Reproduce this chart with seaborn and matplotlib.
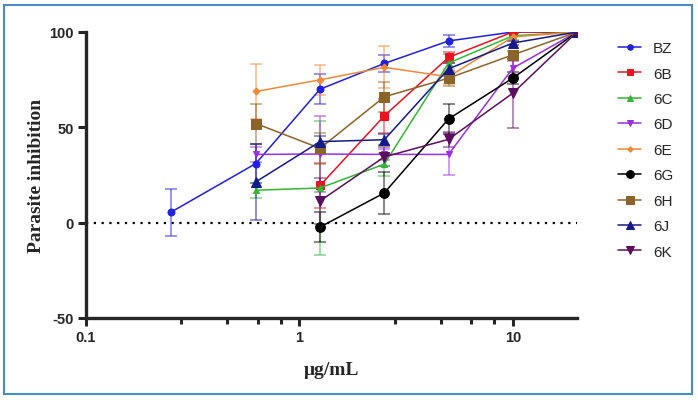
import numpy as np
import pandas as pd
import seaborn as sns
import matplotlib.pyplot as plt
from matplotlib.patches import Rectangle
from matplotlib.ticker import FixedLocator, FixedFormatter

# concentrations (ug/mL)
conc_bz = [0.25, 0.625, 1.25, 2.5, 5, 10, 20]
conc_6 = [0.625, 1.25, 2.5, 5, 10, 20]
conc_late = [1.25, 2.5, 5, 10, 20]

# mean inhibition and error per compound
bz = [5.5, 31, 70, 83.5, 95.3, 100, 100]
bz_err = [12.3, 10, 8, 4.5, 3, 0.5, 0.5]
c6b = [19.5, 56, 86.7, 100, 100]
c6b_err = [12, 9, 3, 0.5, 0.5]
c6c = [17, 18.2, 30.7, 83.7, 98, 100]
c6c_err = [4, 35, 6, 5, 2, 0.5]
c6d = [35.8, 36, 35.8, 35.8, 81, 100]
c6d_err = [4, 20, 3, 11, 4, 0.5]
c6e = [68.8, 74.9, 81.5, 76.5, 97.4, 100]
c6e_err = [14.5, 8, 11, 4, 2, 0.5]
c6g = [-2.3, 15.6, 54.4, 75.8, 100]
c6g_err = [8, 11, 8, 3, 0.5]
c6h = [52, 39, 66, 75.8, 88, 100]
c6h_err = [10.5, 8, 8, 4, 2, 0.5]
c6j = [21.4, 42.5, 43.5, 80.7, 94.2, 100]
c6j_err = [20, 3, 3, 3, 1, 0.5]
c6k = [11.4, 34.5, 43.7, 67.9, 100]
c6k_err = [12, 5, 4, 18, 0.5]

names = ["BZ", "6B", "6C", "6D", "6E", "6G", "6H", "6J", "6K"]
xs = [conc_bz, conc_late, conc_6, conc_6, conc_6, conc_late, conc_6, conc_6, conc_late]
ys = [bz, c6b, c6c, c6d, c6e, c6g, c6h, c6j, c6k]
errs = [bz_err, c6b_err, c6c_err, c6d_err, c6e_err, c6g_err, c6h_err, c6j_err, c6k_err]
colors = ["#2020dd", "#ee1122", "#33b833", "#9b30e0", "#f08a3a",
          "#000000", "#8b6428", "#151a8a", "#5c0f5e"]
markers = ["o", "s", "^", "v", "D", "o", "s", "^", "v"]
msizes = [5, 6, 5, 5, 3.5, 7, 7, 7, 7]

sns.set_style("ticks")
plt.rcParams['font.family'] = ['Liberation Sans', 'DejaVu Sans']
plt.rcParams['axes.unicode_minus'] = False

fig = plt.figure(figsize=(6.98, 4.06), dpi=100)
ax = fig.add_axes([86 / 698, 1 - 319 / 406, (577 - 86) / 698, (319 - 33) / 406])

ax.plot([0.1, 20], [0, 0], color="black", linestyle=(0, (1, 2.5)), linewidth=1.6, zorder=1)

for name, x, y, e, c, m, s in zip(names, xs, ys, errs, colors, markers, msizes):
    ax.errorbar(x, y, yerr=e, fmt="none", ecolor=c, elinewidth=1.2,
                capsize=4.5, capthick=1.2, alpha=0.55, zorder=2)
    df = pd.DataFrame({"conc": x, "inhib": y})
    sns.lineplot(data=df, x="conc", y="inhib", color=c, marker=m, markersize=s,
                 markeredgecolor=c, linewidth=1.1, label=name, ax=ax, zorder=3)

ax.set_xscale("log")
ax.set_xlim(0.1, 20)
ax.set_ylim(-50, 100)

ax.xaxis.set_major_locator(FixedLocator([0.1, 1, 10]))
ax.xaxis.set_major_formatter(FixedFormatter(["0.1", "1", "10"]))
ax.xaxis.set_minor_locator(FixedLocator([0.28, 0.46, 0.64, 0.82, 2.8, 4.6, 6.4, 8.2]))
ax.xaxis.set_minor_formatter(FixedFormatter([]))
ax.set_yticks([-50, 0, 50, 100])

for sp in ["top", "right"]:
    ax.spines[sp].set_visible(False)
for sp in ["left", "bottom"]:
    ax.spines[sp].set_linewidth(2.4)
ax.tick_params(which="major", length=6, width=2.2, labelsize=10.5, pad=3)
ax.tick_params(axis="x", which="minor", length=4, width=2.2)
for lab in ax.get_xticklabels() + ax.get_yticklabels():
    lab.set_fontweight("bold")

ax.set_xlabel("μg/mL", fontsize=14, fontweight="bold", family="Liberation Serif", labelpad=12)
ax.set_ylabel("Parasite inhibition", fontsize=14, fontweight="bold", family="Liberation Serif", labelpad=3)

handles, labels = ax.get_legend_handles_labels()
ax.legend(handles, labels, loc="upper left", bbox_to_anchor=(612 / 698, 1 - 36 / 406),
          bbox_transform=fig.transFigure, frameon=False, fontsize=11, markerscale=0.8,
          handlelength=1.5, handletextpad=0.8, labelspacing=0.75, borderaxespad=0)

fig.patches.append(Rectangle((4 / 698, 1 - 395 / 406), 688 / 698, 389 / 406,
                             transform=fig.transFigure, fill=False,
                             edgecolor="#4a8cc2", linewidth=1.5))

fig.savefig("out.png", dpi=100)
